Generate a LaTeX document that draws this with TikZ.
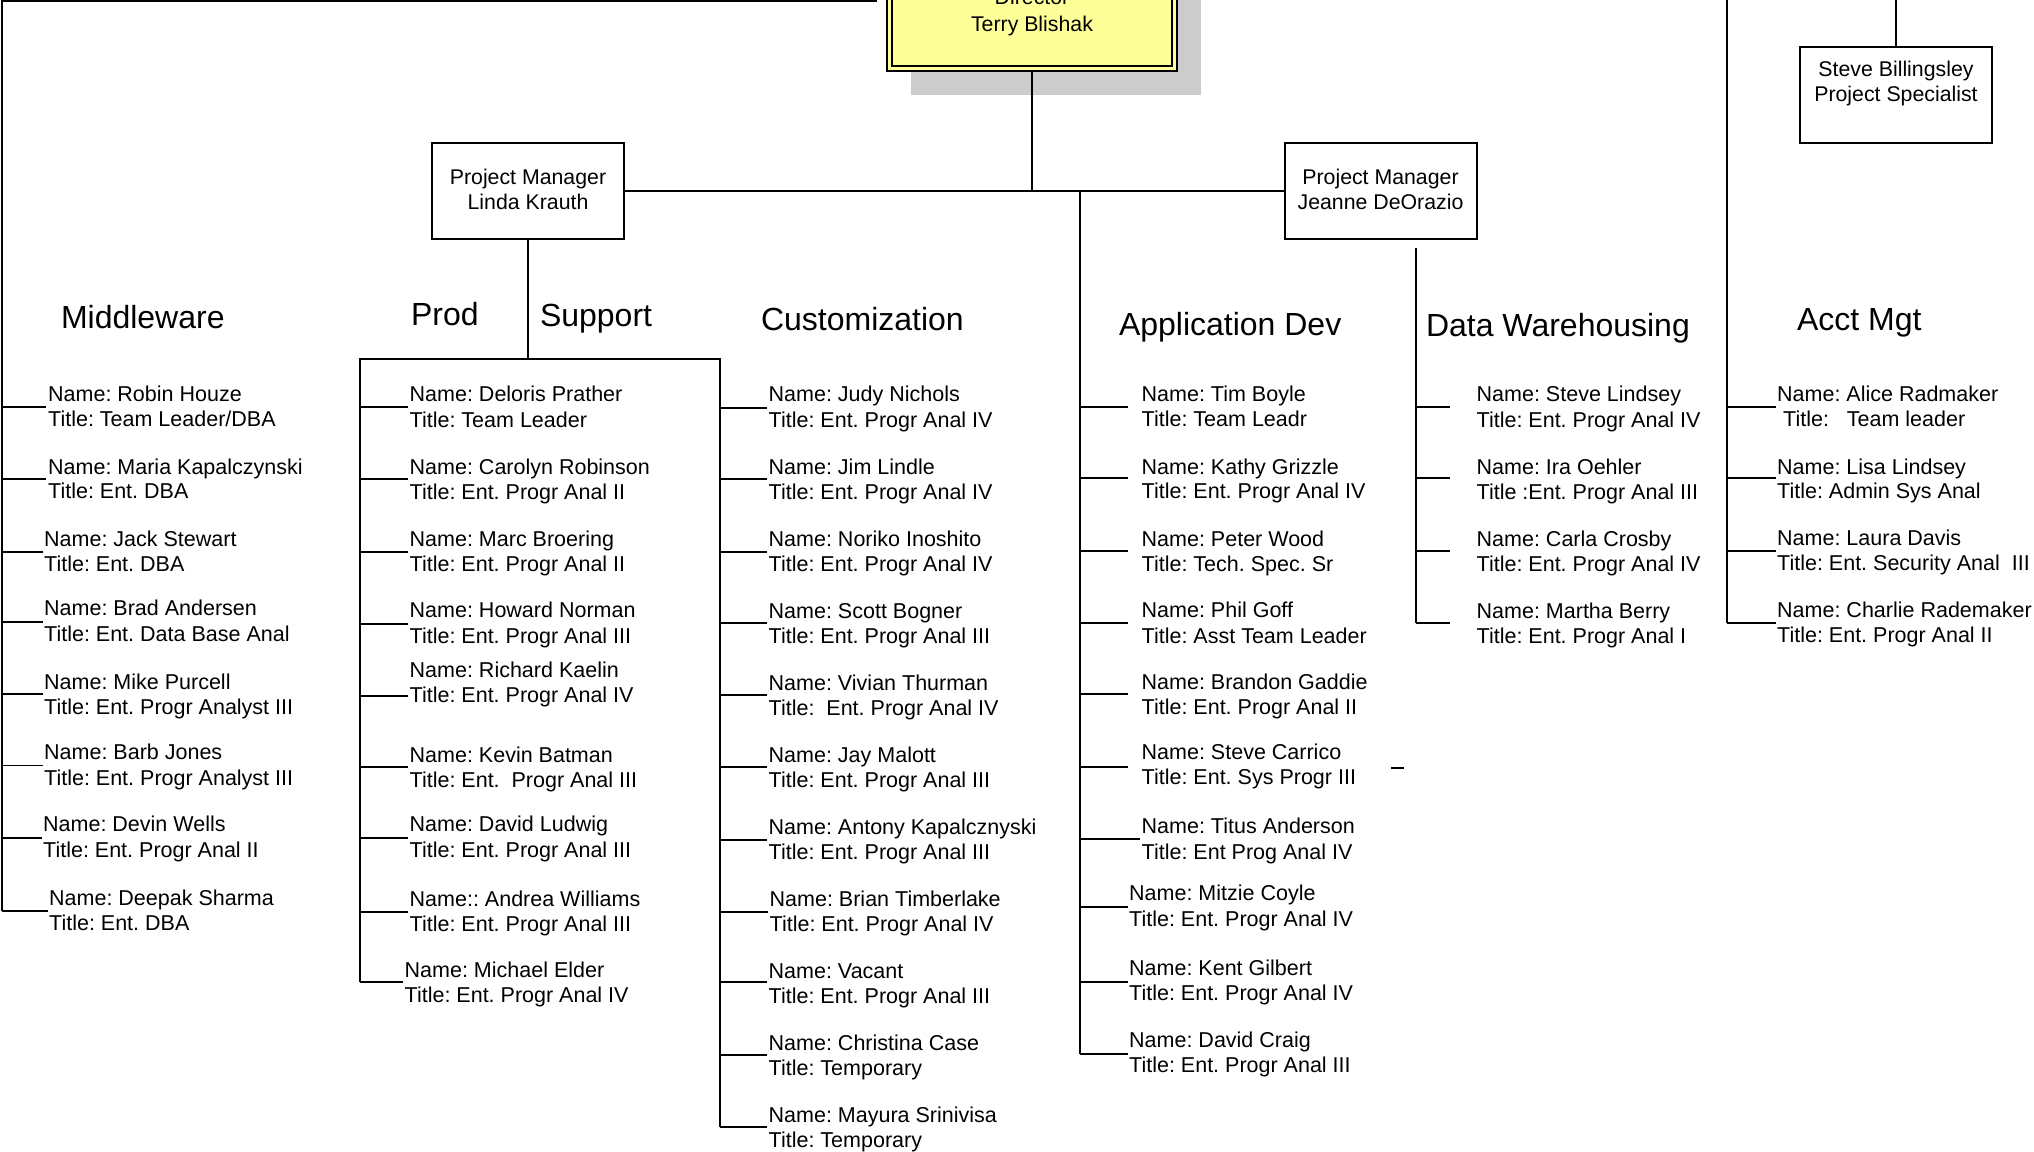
\documentclass[tikz,border=0pt]{standalone}
\usepackage{fontspec}
\setmainfont{Liberation Sans}
\definecolor{dirfill}{HTML}{FFFF99}
\definecolor{shadowgray}{HTML}{CCCCCC}
\newcommand{\staff}[9]{%
  \coordinate (#1s) at (#2,#3);
  \coordinate (#1e) at (#4,#3);
  \draw[conn] (#1s) -- (#1e);
  \node[txt] (#1n) at (#5,#6) {#8};
  \node[txt] (#1t) at (#5,#7) {#9};
}
\begin{document}
\frenchspacing
\begin{tikzpicture}[x=1pt,y=-1pt,
  conn/.style={draw=black,line width=1.8pt},
  txt/.style={anchor=base west,inner sep=0pt,outer sep=0pt,xshift=1.2pt,yshift=-0.8pt,font=\fontsize{21.5}{25}\selectfont},
  hdr/.style={anchor=base west,inner sep=0pt,outer sep=0pt,font=\fontsize{32}{38}\selectfont},
  boxtxt/.style={anchor=base,inner sep=0pt,outer sep=0pt,font=\fontsize{21.3}{25}\selectfont},
  orgbox/.style={draw=black,line width=2pt,fill=white,minimum width=192pt,minimum height=96pt,inner sep=0pt,outer sep=0pt}
]
\useasboundingbox (0,0) rectangle (2034,1151);
\clip (0,0) rectangle (2034,1151);
\fill[white] (0,0) rectangle (2034,1151);

% Middleware
\staff{mw1}{2}{406.7}{46}{47}{400.7}{425.7}{Name: Robin Houze}{Title: Team Leader/DBA}
\staff{mw2}{2}{479}{46}{47}{473.3}{497.7}{Name: Maria Kapalczynski}{Title: Ent. DBA}
\staff{mw3}{2}{551.7}{43}{43}{545.7}{570.7}{Name: Jack Stewart}{Title: Ent. DBA}
\staff{mw4}{2}{622.3}{43}{43}{615}{640.7}{Name: Brad Andersen}{Title: Ent. Data Base Anal}
\staff{mw5}{2}{694}{43}{43}{688.3}{713.3}{Name: Mike Purcell}{Title: Ent. Progr Analyst III}
\staff{mw6}{2}{765.5}{43}{43}{758.3}{784.5}{Name: Barb Jones}{Title: Ent. Progr Analyst III}
\staff{mw7}{2}{837.7}{42}{42}{830.7}{856.7}{Name: Devin Wells}{Title: Ent. Progr Anal II}
\staff{mw8}{2}{911}{48}{48}{905}{930}{Name: Deepak Sharma}{Title: Ent. DBA}

% Prod Support
\staff{ps1}{360}{407.3}{408}{408.5}{400.7}{426.7}{Name: Deloris Prather}{Title: Team Leader}
\staff{ps2}{360}{479}{408}{408.5}{474}{498.3}{Name: Carolyn Robinson}{Title: Ent. Progr Anal II}
\staff{ps3}{360}{551.7}{408}{408.5}{545.7}{570.7}{Name: Marc Broering}{Title: Ent. Progr Anal II}
\staff{ps4}{360}{624}{408}{408.5}{616.7}{642.7}{Name: Howard Norman}{Title: Ent. Progr Anal III}
\staff{ps5}{360}{695.7}{408}{408.5}{676.7}{701.7}{Name: Richard Kaelin}{Title: Ent. Progr Anal IV}
\staff{ps6}{360}{767.3}{408}{408.5}{761.7}{786.7}{Name: Kevin Batman}{Title: Ent.\ \ Progr Anal III}
\staff{ps7}{360}{837.7}{408}{408.5}{830.7}{856.7}{Name: David Ludwig}{Title: Ent. Progr Anal III}
\staff{ps8}{360}{911.7}{408}{408.5}{905.7}{930.7}{Name:: Andrea Williams}{Title: Ent. Progr Anal III}
\staff{ps9}{360}{982.3}{403}{403.5}{976.7}{1001.7}{Name: Michael Elder}{Title: Ent. Progr Anal IV}

% Customization
\staff{cu1}{720}{407.7}{767}{767.5}{400.7}{426.7}{Name: Judy Nichols}{Title: Ent. Progr Anal IV}
\staff{cu2}{720}{479}{767}{767.5}{473.3}{498.3}{Name: Jim Lindle}{Title: Ent. Progr Anal IV}
\staff{cu3}{720}{551.7}{767}{767.5}{545.7}{570.7}{Name: Noriko Inoshito}{Title: Ent. Progr Anal IV}
\staff{cu4}{720}{623.3}{767}{767.5}{617.7}{642.7}{Name: Scott Bogner}{Title: Ent. Progr Anal III}
\staff{cu5}{720}{695}{767}{767.5}{690}{715}{Name: Vivian Thurman}{Title:\ \ Ent. Progr Anal IV}
\staff{cu6}{720}{766.7}{767}{767.5}{761.7}{786.7}{Name: Jay Malott}{Title: Ent. Progr Anal III}
\staff{cu7}{720}{840}{767}{767.5}{833.3}{858.3}{Name: Antony Kapalcznyski}{Title: Ent. Progr Anal III}
\staff{cu8}{720}{911.7}{768}{768.5}{906}{930.7}{Name: Brian Timberlake}{Title: Ent. Progr Anal IV}
\staff{cu9}{720}{982.3}{767}{767.5}{977.3}{1002.3}{Name: Vacant}{Title: Ent. Progr Anal III}
\staff{cu10}{720}{1055}{767}{767.5}{1049.3}{1074.3}{Name: Christina Case}{Title: Temporary}
\staff{cu11}{720}{1126.7}{767}{767.5}{1121.7}{1146.7}{Name: Mayura Srinivisa}{Title: Temporary}

% Application Dev
\staff{ad1}{1080}{406.7}{1128}{1140.5}{400.7}{425.7}{Name: Tim Boyle}{Title: Team Leadr}
\staff{ad2}{1080}{478.3}{1128}{1140.5}{473.3}{497.3}{Name: Kathy Grizzle}{Title: Ent. Progr Anal IV}
\staff{ad3}{1080}{550.7}{1128}{1140.5}{545.7}{570.7}{Name: Peter Wood}{Title: Tech. Spec. Sr}
\staff{ad4}{1080}{622.7}{1128}{1140.5}{616.7}{642.7}{Name: Phil Goff}{Title: Asst Team Leader}
\staff{ad5}{1080}{694.3}{1128}{1140.5}{688.3}{713.3}{Name: Brandon Gaddie}{Title: Ent. Progr Anal II}
\staff{ad6}{1080}{766.7}{1128}{1140.5}{759}{784}{Name: Steve Carrico}{Title: Ent. Sys Progr III}
\staff{ad7}{1080}{839}{1140}{1140.5}{832.7}{858.3}{Name: Titus Anderson}{Title: Ent Prog Anal IV}
\staff{ad8}{1080}{907.3}{1128}{1128}{900}{925.7}{Name: Mitzie Coyle}{Title: Ent. Progr Anal IV}
\staff{ad9}{1080}{981.7}{1128}{1128}{975}{1000}{Name: Kent Gilbert}{Title: Ent. Progr Anal IV}
\staff{ad10}{1080}{1054}{1128}{1128}{1046.7}{1071.7}{Name: David Craig}{Title: Ent. Progr Anal III}

% Data Warehousing
\staff{dw1}{1416}{406.7}{1450}{1475.5}{400.7}{426.7}{Name: Steve Lindsey}{Title: Ent. Progr Anal IV}
\staff{dw2}{1416}{478.3}{1450}{1475.5}{473.3}{498.3}{Name: Ira Oehler}{Title :Ent. Progr Anal III}
\staff{dw3}{1416}{550.7}{1450}{1475.5}{545.7}{570.7}{Name: Carla Crosby}{Title: Ent. Progr Anal IV}
\staff{dw4}{1416}{622.7}{1450}{1475.5}{617.7}{642.7}{Name: Martha Berry}{Title: Ent. Progr Anal I}

% Acct Mgt
\staff{am1}{1727}{406.7}{1776}{1776}{400.7}{425.7}{Name: Alice Radmaker}{\ Title:\ \ \ Team leader}
\staff{am2}{1727}{478.3}{1776}{1776}{473.3}{497.3}{Name: Lisa Lindsey}{Title: Admin Sys Anal}
\staff{am3}{1727}{550.7}{1776}{1776}{545}{570}{Name: Laura Davis}{Title: Ent. Security Anal\ \ III}
\staff{am4}{1727}{622.7}{1776}{1776}{616.7}{641.7}{Name: Charlie Rademaker}{Title: Ent. Progr Anal II}

% headers
\node[hdr] (hmw) at (61,328.3) {Middleware};
\node[hdr] (hprod) at (411,325) {Prod};
\node[hdr] (hsup) at (540,326) {Support};
\node[hdr] (hcus) at (761,330) {Customization};
\node[hdr] (happ) at (1119,335) {Application Dev};
\node[hdr] (hdw) at (1426,336) {Data Warehousing};
\node[hdr] (hacct) at (1797,330) {Acct Mgt};

% boxes
\node[fill=shadowgray,minimum width=290pt,minimum height=108pt,inner sep=0pt,outer sep=0pt] (dirshadow) at (1056,41) {};
\node[draw=black,line width=2pt,fill=dirfill,minimum width=290pt,minimum height=108pt,inner sep=0pt,outer sep=0pt] (dir) at (1032,17) {};
\draw[line width=1.2pt] ([shift={(5,5)}]dir.north west) rectangle ([shift={(-5,-5)}]dir.south east);
\node[boxtxt] (dirt1) at (1032,5) {Director};
\node[boxtxt] (dirt2) at (1032,31) {Terry Blishak};

\node[orgbox] (linda) at (528,191) {};
\node[boxtxt] (lindat1) at (528,184) {Project Manager};
\node[boxtxt] (lindat2) at (528,209) {Linda Krauth};

\node[orgbox] (jeanne) at (1380.5,191) {};
\node[boxtxt] (jeannet1) at (1380.5,184) {Project Manager};
\node[boxtxt] (jeannet2) at (1380.5,209) {Jeanne DeOrazio};

\node[orgbox] (bill) at (1896,95) {};
\node[boxtxt] (billt1) at (1896,76) {Steve Billingsley};
\node[boxtxt] (billt2) at (1896,101) {Project Specialist};

% connectors
\coordinate (topend) at (877,0.9);
\coordinate (topleft) at (2,0.9);
\draw[conn] (topend) -- (topleft) -- (mw8s);
\coordinate (jdir) at (1032,191);
\draw[conn] (dir.south) -- (jdir);
\draw[conn] (linda.east) -- (jeanne.west);
\coordinate (jad) at (1080,191);
\draw[conn] (jad) -- (ad10s);
\coordinate (psjoin) at (528,359);
\draw[conn] (linda.south) -- (psjoin);
\coordinate (psl) at (360,359);
\coordinate (psr) at (720,359);
\draw[conn] (ps9s) -- (psl) -- (psr) -- (cu11s);
\coordinate (dwtop) at (1416,248);
\draw[conn] (dwtop) -- (dw4s);
\coordinate (amtop) at (1727,0);
\draw[conn] (amtop) -- (am4s);
\coordinate (billtop) at (1896,0);
\draw[conn] (billtop) -- (bill.north);
\coordinate (dashA) at (1391,768);
\coordinate (dashB) at (1404,768);
\draw[conn] (dashA) -- (dashB);
\end{tikzpicture}
\end{document}
